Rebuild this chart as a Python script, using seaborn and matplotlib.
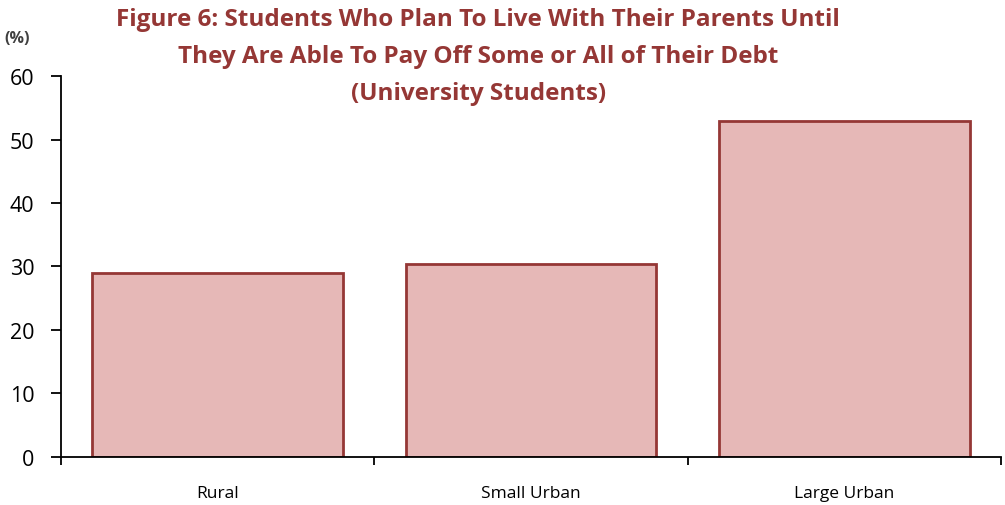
import matplotlib
matplotlib.use("Agg")
import matplotlib.pyplot as plt
import seaborn as sns
import pandas as pd

categories = ["Rural", "Small Urban", "Large Urban"]
values = [29.0, 30.4, 52.9]
yticks = [0, 10, 20, 30, 40, 50, 60]
title = ("Figure 6: Students Who Plan To Live With Their Parents Until\n"
         "They Are Able To Pay Off Some or All of Their Debt\n"
         "(University Students)")

sns.set_style("white")
plt.rcParams['font.family'] = ['Open Sans', 'DejaVu Sans']

df = pd.DataFrame({"cat": categories, "val": values})
fig = plt.figure(figsize=(10.05, 5.06), dpi=100)
ax = fig.add_axes([0.0607, 0.0949, 0.9353, 0.7529])
sns.barplot(data=df, x="cat", y="val", ax=ax, color="#E6B8B7",
            edgecolor="#953735", linewidth=2, width=0.8, saturation=1)
ax.set_ylim(0, 60)
ax.set_xlim(-0.5, 2.5)
ax.set_yticks(yticks)
ax.set_yticklabels([str(t) for t in yticks], fontsize=15.5, color="black")
ax.set_xticks([-0.5, 0.5, 1.5, 2.5])
ax.set_xticklabels([])
ax.set_xticks(range(len(categories)), minor=True)
ax.set_xticklabels(categories, minor=True, fontsize=12.5, color="black")
ax.tick_params(axis='x', which='minor', bottom=True, length=0, pad=20)
ax.tick_params(axis='x', which='major', bottom=True, length=6, width=1.3,
               direction='out', color='black')
ax.tick_params(axis='y', left=True, length=7, width=1.3, direction='out',
               color='black', pad=12)
ax.set_xlabel("")
ax.set_ylabel("")
for s in ["top", "right"]:
    ax.spines[s].set_visible(False)
for s in ["left", "bottom"]:
    ax.spines[s].set_color("black")
    ax.spines[s].set_linewidth(1.3)
fig.text(0.476, 0.985, title, ha="center", va="top", fontsize=17.5,
         fontweight="bold", color="#953735", linespacing=1.72)
fig.text(0.004, 0.922, "(%)", ha="left", va="center", fontsize=11.5,
         fontweight="bold", color="#404040")
fig.savefig("out.png", dpi=100)
